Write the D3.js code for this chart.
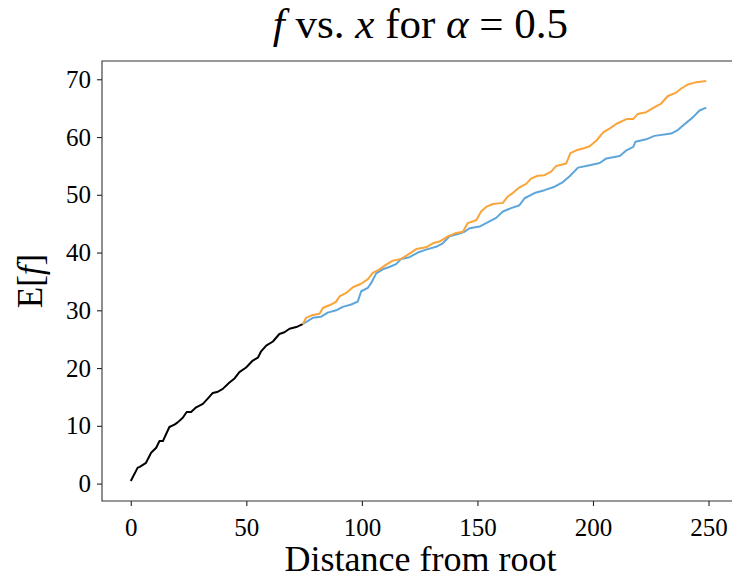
<!DOCTYPE html>
<html>
<head>
<meta charset="utf-8">
<script src="https://cdn.jsdelivr.net/npm/d3@7"></script>
<style>
  html, body { margin: 0; padding: 0; background: #fff; overflow: hidden; }
  svg { display: block; }
  svg text { font-family: "Liberation Serif", "DejaVu Serif", serif; fill: #000; }
</style>
</head>
<body>
<div id="chart"></div>
<script>
// donnees
const blackX = [0, 3, 3.9, 6.6, 8.8, 11, 12.4, 13.9, 16.7, 18.9, 20.3, 22.5, 24.2, 26.1, 28.3, 31.2, 33.3, 35.5, 37.7, 39.8, 42.7, 44.9, 47, 49.9, 52.8, 55, 56.4, 58.6, 61.5, 64.3, 66.5, 68.7, 71.6, 74.4];
const blackY = [0.45, 2.76, 2.9, 3.6, 5.35, 6.2, 7.36, 7.36, 9.8, 10.2, 10.6, 11.4, 12.4, 12.4, 13.2, 13.8, 14.7, 15.7, 15.9, 16.4, 17.5, 18.2, 19.3, 20.1, 21.3, 21.8, 22.9, 23.9, 24.6, 25.9, 26.2, 26.8, 27.1, 27.6];

const blueX = [74.4, 75.2, 78.8, 82.4, 85.2, 88.9, 91.7, 95.4, 98.2, 99.7, 102.6, 104, 106.2, 109, 111.9, 114.8, 117, 120.6, 124.2, 127.8, 132.1, 135, 137.9, 141.5, 144.4, 146.6, 150.9, 155.2, 158.1, 161, 164.6, 168.2, 170.4, 174.7, 179, 183.4, 187, 189.9, 193.5, 198.6, 202.9, 205.8, 211.6, 214.5, 217.4, 218.4, 223, 226.6, 233.8, 236.7, 239.6, 243.2, 246.1, 249];
const blueY = [27.6, 27.8, 28.7, 28.9, 29.6, 30, 30.6, 31, 31.5, 33.3, 33.9, 34.7, 36.4, 37.1, 37.5, 38, 38.9, 39.2, 40, 40.5, 41, 41.6, 42.8, 43.2, 43.6, 44.2, 44.5, 45.4, 46, 47.1, 47.7, 48.2, 49.4, 50.3, 50.8, 51.4, 52.2, 53.2, 54.7, 55.1, 55.5, 56.3, 56.7, 57.7, 58.3, 59.2, 59.6, 60.2, 60.6, 61.2, 62.2, 63.4, 64.6, 65.1];

const orangeX = [74.4, 75.9, 78.8, 81.7, 83.1, 86.7, 88.9, 90.3, 93.2, 96.1, 99.7, 102.6, 104.7, 107.6, 110.5, 113.4, 117, 120.6, 123.5, 127.8, 130.7, 133.6, 137.2, 140.8, 143.7, 145.8, 149.5, 151.6, 153.8, 156.7, 161, 163.1, 165.3, 168.2, 171.1, 173.2, 176.1, 179, 181.9, 184.1, 188.4, 190.2, 192.8, 196.4, 198.6, 201.5, 204.4, 207.3, 210.2, 214.5, 217.4, 219.4, 223, 225.9, 229.5, 232.4, 236, 238.2, 241.1, 244.7, 249];
const orangeY = [27.6, 28.7, 29.2, 29.4, 30.4, 31, 31.5, 32.4, 33, 34, 34.6, 35.4, 36.5, 37.1, 37.9, 38.6, 38.9, 39.8, 40.6, 40.9, 41.6, 41.9, 42.8, 43.4, 43.6, 45.1, 45.6, 47.1, 47.9, 48.4, 48.6, 49.7, 50.3, 51.3, 51.9, 52.8, 53.3, 53.4, 54, 55, 55.4, 57.2, 57.7, 58.1, 58.4, 59.4, 60.8, 61.5, 62.3, 63.1, 63.1, 64, 64.3, 65, 65.8, 67.1, 67.7, 68.4, 69.1, 69.5, 69.7];

const xTicks = [0, 50, 100, 150, 200, 250];
const yTicks = [0, 10, 20, 30, 40, 50, 60, 70];

const series = [
    { xs: blackX, ys: blackY, color: "#000000" },
    { xs: blueX, ys: blueY, color: "#5da5da" },
    { xs: orangeX, ys: orangeY, color: "#faa43a" }
];

// Marges (le bord droit depasse la fenetre, comme sur l'original)
let margin = { top: 61, right: -3, bottom: 77, left: 102 };
let width = 732 - margin.left - margin.right,
    height = 578 - margin.top - margin.bottom;
const visibleRight = 732 - margin.left; // la fenetre coupe le graphique ici

let svg = d3.select("#chart")
    .append("svg")
    .attr("width", 732)
    .attr("height", 578)
    .style("overflow", "hidden")
    .append("g")
    .attr("transform", "translate(" + margin.left + "," + margin.top + ")");

// echelles avec 5% de marge comme matplotlib
const allX = [].concat(blackX, blueX, orangeX);
const allY = [].concat(blackY, blueY, orangeY);
const [x0, x1] = d3.extent(allX);
const [y0, y1] = d3.extent(allY);
const padX = (x1 - x0) * 0.05, padY = (y1 - y0) * 0.05;

let x = d3.scaleLinear().domain([x0 - padX, x1 + padX]).range([0, width]);
let y = d3.scaleLinear().domain([y0 - padY, y1 + padY]).range([height, 0]);

// lignes
const line = d3.line()
    .x(d => x(d[0]))
    .y(d => y(d[1]));

series.forEach(s => {
    svg.append("path")
        .datum(s.xs.map((v, i) => [v, s.ys[i]]))
        .attr("fill", "none")
        .attr("stroke", s.color)
        .attr("stroke-width", 2)
        .attr("stroke-linejoin", "round")
        .attr("d", line);
});

// axes
let xAxis = svg.append("g")
    .attr("transform", "translate(0," + height + ")")
    .call(d3.axisBottom(x).tickValues(xTicks).tickSize(5).tickPadding(6).tickSizeOuter(0));

let yAxis = svg.append("g")
    .call(d3.axisLeft(y).tickValues(yTicks).tickSize(5).tickPadding(6).tickSizeOuter(0));

[xAxis, yAxis].forEach(a => {
    a.select(".domain").remove();
    a.selectAll("line").attr("stroke", "#222").attr("stroke-width", 1.1);
    a.selectAll("text")
        .style("font-family", "Liberation Serif")
        .style("font-size", "25px")
        .attr("fill", "#000");
});
xAxis.selectAll("text").attr("dy", "0.95em");

// cadre : gauche, haut, bas (le cote droit est hors champ)
svg.append("path")
    .attr("d", "M" + visibleRight + ",0H0V" + height + "H" + visibleRight)
    .attr("fill", "none")
    .attr("stroke", "#333")
    .attr("stroke-width", 1.1);

// titres
const cx = (732 - 3 - margin.left) / 2 + 5;

svg.append("text")
    .attr("x", cx)
    .attr("y", -23)
    .attr("text-anchor", "middle")
    .style("font-size", "43px")
    .html('<tspan font-style="italic">f</tspan> vs. <tspan font-style="italic">x</tspan> for <tspan font-style="italic">α</tspan> = 0.5');

svg.append("text")
    .text("Distance from root")
    .attr("x", cx)
    .attr("y", height + 70)
    .attr("text-anchor", "middle")
    .style("font-size", "36px");

svg.append("text")
    .attr("transform", "translate(-60," + (height / 2) + ") rotate(-90)")
    .attr("text-anchor", "middle")
    .style("font-size", "35px")
    .html('E[<tspan font-style="italic">f</tspan>]');
</script>
</body>
</html>
